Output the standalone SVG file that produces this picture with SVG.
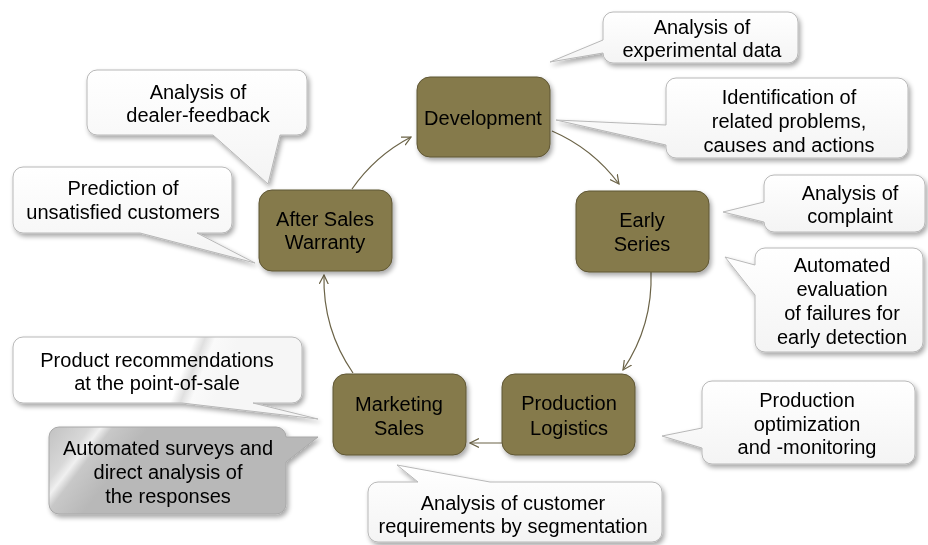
<svg xmlns="http://www.w3.org/2000/svg" width="928" height="545" viewBox="0 0 928 545">
<style>
text{font-family:"Liberation Sans",Arial,sans-serif;font-size:20px;fill:#000;text-anchor:middle}
.node rect{fill:#857A4B;stroke:#5F5634;stroke-width:1}
.co path{fill:url(#cg);stroke:#B8B8B8;stroke-width:1}
.co.gray path{fill:url(#gg);stroke:#A8A8A8}
.co.gloss path{fill:url(#wg)}
.conn path{fill:none;stroke:#6B6347;stroke-width:1.2;marker-end:url(#ah)}
</style>
<defs>
<linearGradient id="cg" x1="0" y1="0" x2="0" y2="1">
<stop offset="0" stop-color="#FFFFFF"/><stop offset="1" stop-color="#F4F4F4"/>
</linearGradient>
<linearGradient id="wg" gradientUnits="userSpaceOnUse" x1="160" y1="366" x2="220" y2="389">
<stop offset="0" stop-color="#FFFFFF"/><stop offset="0.35" stop-color="#FFFFFF"/><stop offset="0.5" stop-color="#E0E0E0"/><stop offset="0.65" stop-color="#FAFAFA"/><stop offset="1" stop-color="#F6F6F6"/>
</linearGradient>
<linearGradient id="gg" gradientUnits="userSpaceOnUse" x1="50" y1="432" x2="110" y2="478">
<stop offset="0" stop-color="#C4C4C4"/><stop offset="0.38" stop-color="#D8D8D8"/><stop offset="0.5" stop-color="#F0F0F0"/><stop offset="0.62" stop-color="#C8C8C8"/><stop offset="1" stop-color="#B8B8B8"/>
</linearGradient>
<filter id="sh" x="-10%" y="-10%" width="130%" height="140%">
<feGaussianBlur in="SourceAlpha" stdDeviation="2.5"/>
<feOffset dx="2" dy="3" result="b"/>
<feComponentTransfer><feFuncA type="linear" slope="0.35"/></feComponentTransfer>
<feMerge><feMergeNode/><feMergeNode in="SourceGraphic"/></feMerge>
</filter>
<marker id="ah" viewBox="0 0 10 10" refX="9" refY="5" markerWidth="10" markerHeight="10" markerUnits="userSpaceOnUse" orient="auto">
<path d="M0,0.5 L9,5 L0,9.5" fill="none" stroke="#6B6347" stroke-width="1.2"/>
</marker>
</defs>

<g id="connectors" class="conn">
<path d="M352,189 A165,165 0 0 1 411,137"/>
<path d="M552,131 A165,165 0 0 1 619,184"/>
<path d="M651,272 A165,165 0 0 1 623,370"/>
<path d="M503,443 L470,443"/>
<path d="M353,373 A165,165 0 0 1 324,275"/>
</g>

<g id="node-development" class="node" filter="url(#sh)">
<rect x="417" y="77" width="133" height="80" rx="13"/>
<text x="483" y="125">Development</text>
</g>
<g id="node-early-series" class="node" filter="url(#sh)">
<rect x="576" y="191" width="133" height="81" rx="13"/>
<text x="642" y="227">Early</text>
<text x="642" y="251">Series</text>
</g>
<g id="node-production-logistics" class="node" filter="url(#sh)">
<rect x="502" y="374" width="133" height="81" rx="13"/>
<text x="569" y="410">Production</text>
<text x="569" y="435">Logistics</text>
</g>
<g id="node-marketing-sales" class="node" filter="url(#sh)">
<rect x="333" y="374" width="133" height="81" rx="13"/>
<text x="399" y="411">Marketing</text>
<text x="399" y="435">Sales</text>
</g>
<g id="node-after-sales" class="node" filter="url(#sh)">
<rect x="259" y="190" width="133" height="81" rx="13"/>
<text x="325" y="226">After Sales</text>
<text x="325" y="249">Warranty</text>
</g>

<g id="callout-experimental" class="co" filter="url(#sh)">
<path d="M613,12 H788 A10,10 0 0 1 798,22 V53 A10,10 0 0 1 788,63 H613 A10,10 0 0 1 603,53 L550,62 L603,40 V22 A10,10 0 0 1 613,12 Z"/>
<text x="702" y="34">Analysis of</text>
<text x="702" y="57">experimental data</text>
</g>
<g id="callout-identification" class="co" filter="url(#sh)">
<path d="M676,78 H898 A10,10 0 0 1 908,88 V148 A10,10 0 0 1 898,158 H676 A10,10 0 0 1 666,148 V145 L556,120 L666,125 V88 A10,10 0 0 1 676,78 Z"/>
<text x="789" y="104">Identification of</text>
<text x="789" y="128">related problems,</text>
<text x="789" y="152">causes and actions</text>
</g>
<g id="callout-complaint" class="co" filter="url(#sh)">
<path d="M774,175 H915 A10,10 0 0 1 925,185 V222 A10,10 0 0 1 915,232 H774 A10,10 0 0 1 764,222 L723,212 L764,202 V185 A10,10 0 0 1 774,175 Z"/>
<text x="850" y="200">Analysis of</text>
<text x="850" y="223">complaint</text>
</g>
<g id="callout-evaluation" class="co" filter="url(#sh)">
<path d="M765,248 H913 A10,10 0 0 1 923,258 V342 A10,10 0 0 1 913,352 H765 A10,10 0 0 1 755,342 V295 L725,257 L755,265 V258 A10,10 0 0 1 765,248 Z"/>
<text x="842" y="272">Automated</text>
<text x="842" y="296">evaluation</text>
<text x="842" y="320">of failures for</text>
<text x="842" y="344">early detection</text>
</g>
<g id="callout-production" class="co" filter="url(#sh)">
<path d="M712,381 H905 A10,10 0 0 1 915,391 V454 A10,10 0 0 1 905,464 H712 A10,10 0 0 1 702,454 V448 L662,436 L702,428 V391 A10,10 0 0 1 712,381 Z"/>
<text x="807" y="407">Production</text>
<text x="807" y="431">optimization</text>
<text x="807" y="454">and -monitoring</text>
</g>
<g id="callout-segmentation" class="co" filter="url(#sh)">
<path d="M378,482 H418 L397,465 L490,482 H652 A10,10 0 0 1 662,492 V532 A10,10 0 0 1 652,542 H378 A10,10 0 0 1 368,532 V492 A10,10 0 0 1 378,482 Z"/>
<text x="513" y="510">Analysis of customer</text>
<text x="513" y="533">requirements by segmentation</text>
</g>
<g id="callout-recommendations" class="co gloss" filter="url(#sh)">
<path d="M23,337 H292 A10,10 0 0 1 302,347 V393 A10,10 0 0 1 292,403 H253 L318,419 L182,403 H23 A10,10 0 0 1 13,393 V347 A10,10 0 0 1 23,337 Z"/>
<text x="157" y="367">Product recommendations</text>
<text x="157" y="390">at the point-of-sale</text>
</g>
<g id="callout-surveys" class="co gray" filter="url(#sh)">
<path d="M59,427 H276 A10,10 0 0 1 286,437 L318,437 L286,462 V504 A10,10 0 0 1 276,514 H59 A10,10 0 0 1 49,504 V437 A10,10 0 0 1 59,427 Z"/>
<text x="168" y="455">Automated surveys and</text>
<text x="168" y="479">direct analysis of</text>
<text x="168" y="503">the responses</text>
</g>
<g id="callout-dealer" class="co" filter="url(#sh)">
<path d="M97,70 H297 A10,10 0 0 1 307,80 V125 A10,10 0 0 1 297,135 H280 L268,184 L213,135 H97 A10,10 0 0 1 87,125 V80 A10,10 0 0 1 97,70 Z"/>
<text x="198" y="99">Analysis of</text>
<text x="198" y="122">dealer-feedback</text>
</g>
<g id="callout-prediction" class="co" filter="url(#sh)">
<path d="M23,167 H222 A10,10 0 0 1 232,177 V223 A10,10 0 0 1 222,233 H197 L255,263 L140,233 H23 A10,10 0 0 1 13,223 V177 A10,10 0 0 1 23,167 Z"/>
<text x="123" y="195">Prediction of</text>
<text x="123" y="219">unsatisfied customers</text>
</g>
</svg>
